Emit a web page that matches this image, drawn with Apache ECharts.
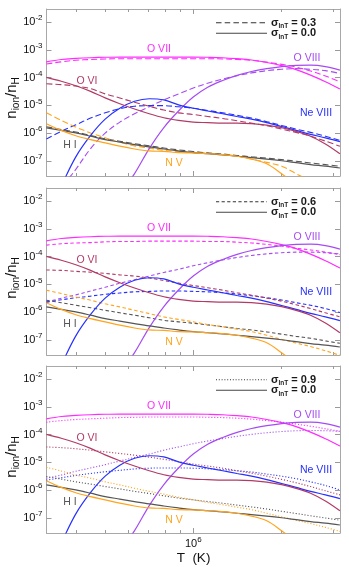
<!DOCTYPE html>
<html><head><meta charset="utf-8">
<script src="https://cdn.jsdelivr.net/npm/echarts@6/dist/echarts.min.js"></script>
<style>html,body{margin:0;padding:0;background:#fff}#c{width:349px;height:567px}</style>
</head><body><div id="c"></div>
<script>
// Temperature grid (K)
const T = [3.16e5,3.55e5,3.98e5,4.47e5,5.01e5,5.62e5,6.31e5,7.08e5,7.94e5,8.91e5,1.0e6,1.12e6,1.26e6,1.41e6,1.58e6,1.78e6,2.0e6,2.24e6,2.51e6,2.82e6,3.16e6];

// sigma_lnT = 0.0 (solid, all panels)
const OVII_s00  = [3.7e-4,4.5e-4,4.9e-4,5.2e-4,5.4e-4,5.5e-4,5.5e-4,5.5e-4,5.5e-4,5.5e-4,5.5e-4,5.4e-4,5.2e-4,4.8e-4,4.3e-4,3.5e-4,2.7e-4,1.95e-4,1.23e-4,7.1e-5,3.9e-5];
const OVIII_s00 = [1e-11,4e-11,1.6e-10,5e-10,1.6e-9,6.3e-9,3.5e-8,2.8e-7,1.6e-6,6.3e-6,2.0e-5,4.5e-5,7.9e-5,1.2e-4,1.66e-4,2.1e-4,2.5e-4,2.75e-4,2.8e-4,2.5e-4,1.86e-4];
const NeVIII_s00= [1e-9,1.26e-8,1.41e-7,8.3e-7,3.2e-6,7.9e-6,1.41e-5,1.74e-5,1.58e-5,1.05e-5,7.9e-6,6.3e-6,5.0e-6,4.0e-6,3.2e-6,2.4e-6,1.74e-6,1.26e-6,9.1e-7,6.8e-7,5.0e-7];
const OVI_s00   = [1.02e-4,7.4e-5,5.1e-5,3.2e-5,1.86e-5,1.15e-5,7.4e-6,5.0e-6,3.6e-6,2.9e-6,2.5e-6,2.4e-6,2.3e-6,2.3e-6,2.2e-6,1.95e-6,1.58e-6,1.17e-6,7.8e-7,4.1e-7,1.82e-7];
const HI_s00    = [1.55e-6,1.26e-6,1.02e-6,7.8e-7,5.9e-7,4.8e-7,3.9e-7,3.2e-7,2.7e-7,2.3e-7,2.0e-7,1.82e-7,1.66e-7,1.48e-7,1.32e-7,1.17e-7,1.02e-7,8.7e-8,7.4e-8,6.5e-8,5.6e-8];
const NV_s00    = [2.2e-6,1.26e-6,8.1e-7,5.9e-7,4.5e-7,3.4e-7,2.7e-7,2.3e-7,2.2e-7,2.0e-7,1.95e-7,1.82e-7,1.7e-7,1.48e-7,1.17e-7,7.9e-8,3.5e-8,1.41e-8,5e-9,1.6e-9,5e-10];

// sigma_lnT = 0.3 (dashed, top panel)
const OVII_s03  = [3.1e-4,3.7e-4,4.2e-4,4.5e-4,4.7e-4,4.8e-4,4.8e-4,4.8e-4,4.8e-4,4.8e-4,4.8e-4,4.8e-4,4.7e-4,4.5e-4,4.2e-4,3.6e-4,3.0e-4,2.4e-4,1.74e-4,1.15e-4,7.1e-5];
const OVIII_s03 = [1e-9,1e-8,5e-8,2.8e-7,1e-6,2.5e-6,5e-6,8.9e-6,1.58e-5,2.6e-5,4.2e-5,6.3e-5,8.9e-5,1.17e-4,1.48e-4,1.78e-4,2.0e-4,2.1e-4,2.0e-4,1.78e-4,1.41e-4];
const NeVIII_s03= [6.2e-7,1.17e-6,2.0e-6,3.5e-6,5.4e-6,7.6e-6,9.3e-6,9.8e-6,9.8e-6,8.9e-6,7.9e-6,6.6e-6,5.4e-6,4.4e-6,3.5e-6,2.6e-6,1.9e-6,1.41e-6,1.07e-6,7.8e-7,5.5e-7];
const OVI_s03   = [6.0e-5,5.6e-5,5.0e-5,4.0e-5,2.6e-5,1.86e-5,1.29e-5,9.3e-6,6.8e-6,5.4e-6,4.7e-6,4.0e-6,3.4e-6,2.8e-6,2.3e-6,1.86e-6,1.41e-6,1.07e-6,7.8e-7,5.2e-7,3.4e-7];
const HI_s03    = [1.7e-6,1.35e-6,1.1e-6,8.3e-7,6.3e-7,5.1e-7,4.2e-7,3.5e-7,2.95e-7,2.5e-7,2.2e-7,1.95e-7,1.78e-7,1.58e-7,1.41e-7,1.26e-7,1.12e-7,9.8e-8,8.5e-8,7.4e-8,6.5e-8];
const NV_s03    = [5.4e-6,2.9e-6,1.66e-6,1.02e-6,6.8e-7,4.7e-7,3.5e-7,2.9e-7,2.4e-7,2.2e-7,2.0e-7,1.86e-7,1.7e-7,1.48e-7,1.17e-7,8.9e-8,6.5e-8,3.5e-8,1.86e-8,7.9e-9,3.2e-9];

// sigma_lnT = 0.6 (short dashes, middle panel)
const OVII_s06  = [2.6e-4,2.9e-4,3.1e-4,3.2e-4,3.4e-4,3.5e-4,3.5e-4,3.6e-4,3.6e-4,3.6e-4,3.6e-4,3.5e-4,3.5e-4,3.3e-4,3.1e-4,2.75e-4,2.4e-4,2.0e-4,1.74e-4,1.45e-4,1.17e-4];
const OVIII_s06 = [2.3e-6,3.2e-6,4.2e-6,5.8e-6,7.9e-6,1.1e-5,1.48e-5,2.0e-5,2.7e-5,3.5e-5,4.7e-5,6.0e-5,7.6e-5,9.3e-5,1.1e-4,1.26e-4,1.38e-4,1.45e-4,1.45e-4,1.38e-4,1.26e-4];
const NeVIII_s06= [2.3e-6,2.8e-6,3.3e-6,3.8e-6,4.4e-6,4.9e-6,5.4e-6,5.6e-6,5.8e-6,5.8e-6,5.6e-6,5.4e-6,5.0e-6,4.5e-6,3.9e-6,3.3e-6,2.75e-6,2.2e-6,1.78e-6,1.35e-6,9.8e-7];
const OVI_s06   = [3.3e-5,3.2e-5,2.95e-5,2.75e-5,2.5e-5,2.2e-5,2.0e-5,1.7e-5,1.38e-5,1.12e-5,9.1e-6,7.6e-6,6.2e-6,5.0e-6,4.1e-6,3.2e-6,2.5e-6,1.86e-6,1.35e-6,9.5e-7,6.8e-7];
const HI_s06    = [2.7e-6,2.2e-6,1.78e-6,1.45e-6,1.17e-6,9.5e-7,7.8e-7,6.3e-7,5.1e-7,4.5e-7,4.0e-7,3.5e-7,3.0e-7,2.6e-7,2.3e-7,1.95e-7,1.62e-7,1.35e-7,1.15e-7,9.3e-8,7.6e-8];
const NV_s06    = [6.2e-6,4.7e-6,3.5e-6,2.7e-6,2.0e-6,1.55e-6,1.17e-6,8.9e-7,6.8e-7,5.5e-7,4.5e-7,3.6e-7,3.0e-7,2.45e-7,2.0e-7,1.48e-7,1.05e-7,7.8e-8,5.8e-8,4.1e-8,2.8e-8];

// sigma_lnT = 0.9 (dotted, bottom panel)
const OVII_s09  = [2.8e-4,3.2e-4,3.5e-4,3.7e-4,3.9e-4,4.1e-4,4.2e-4,4.3e-4,4.3e-4,4.3e-4,4.3e-4,4.2e-4,4.1e-4,3.9e-4,3.6e-4,3.2e-4,2.8e-4,2.4e-4,2.0e-4,1.62e-4,1.32e-4];
const OVIII_s09 = [2.7e-6,3.5e-6,4.8e-6,6.3e-6,8.3e-6,1.12e-5,1.51e-5,2.0e-5,2.75e-5,3.6e-5,4.7e-5,5.9e-5,7.2e-5,8.7e-5,1.02e-4,1.17e-4,1.29e-4,1.38e-4,1.41e-4,1.38e-4,1.32e-4];
const NeVIII_s09= [2.3e-6,2.8e-6,3.4e-6,4.0e-6,4.6e-6,5.2e-6,5.8e-6,6.2e-6,6.3e-6,6.3e-6,6.2e-6,5.9e-6,5.5e-6,5.0e-6,4.5e-6,3.8e-6,3.2e-6,2.6e-6,2.0e-6,1.48e-6,1.02e-6];
const OVI_s09   = [3.6e-5,3.4e-5,3.1e-5,2.75e-5,2.4e-5,2.1e-5,1.82e-5,1.55e-5,1.29e-5,1.07e-5,8.7e-6,7.4e-6,6.2e-6,5.0e-6,4.1e-6,3.2e-6,2.45e-6,1.86e-6,1.35e-6,9.5e-7,6.8e-7];
const HI_s09    = [3.1e-6,2.5e-6,2.0e-6,1.66e-6,1.35e-6,1.12e-6,9.1e-7,7.6e-7,6.3e-7,5.2e-7,4.5e-7,3.9e-7,3.4e-7,2.9e-7,2.5e-7,2.1e-7,1.74e-7,1.45e-7,1.2e-7,1.0e-7,8.3e-8];
const NV_s09    = [6.6e-6,4.9e-6,3.5e-6,2.7e-6,2.0e-6,1.55e-6,1.17e-6,9.1e-7,7.2e-7,5.6e-7,4.5e-7,3.6e-7,3.0e-7,2.45e-7,2.0e-7,1.48e-7,1.1e-7,8.3e-8,6.3e-8,4.6e-8,3.3e-8];

// Ticks and labels
const xMajorTicks = [1e6];
const xMinorTicks = [4e5,5e5,6e5,7e5,8e5,9e5,2e6,3e6];
const yTicks = [1e-7,1e-6,1e-5,1e-4,1e-3,1e-2];
const sigmaLabels = ['0.3','0.6','0.9'];
const ionNames = ['O VII','O VIII','Ne VIII','O VI','H I','N V'];

// ---------- building ----------
const FONT = '"Liberation Sans", Arial, Helvetica, sans-serif';
const ionKeys = ['OVII','OVIII','NeVIII','OVI','HI','NV'];
const colors = {OVII:'#ff2bff', OVIII:'#a64bf4', NeVIII:'#2630ff', OVI:'#b13a66', HI:'#555555', NV:'#ffa41c'};
const solid = {OVII:OVII_s00, OVIII:OVIII_s00, NeVIII:NeVIII_s00, OVI:OVI_s00, HI:HI_s00, NV:NV_s00};
const smeared = [
  {OVII:OVII_s03, OVIII:OVIII_s03, NeVIII:NeVIII_s03, OVI:OVI_s03, HI:HI_s03, NV:NV_s03},
  {OVII:OVII_s06, OVIII:OVIII_s06, NeVIII:NeVIII_s06, OVI:OVI_s06, HI:HI_s06, NV:NV_s06},
  {OVII:OVII_s09, OVIII:OVIII_s09, NeVIII:NeVIII_s09, OVI:OVI_s09, HI:HI_s09, NV:NV_s09}
];
const dashes = [[6,3],[3.5,2.5],[1.1,1.9]];
const legendDashes = [[5.5,3.2],[3.2,2.4],[1,1.8]];
const tops = [9, 188, 366];
const H = 167, LEFT = 46.5, W = 293.5;
const XMIN = 316228, XMAX = 3162278, YMIN = 2.88e-8, YMAX = 2.95e-2;
const AXC = '#a8a8a8', TKC = '#9a9a9a';

const supRich = {
  b:{fontSize:11, lineHeight:16, fontFamily:FONT, color:'#111'},
  s:{fontSize:8, lineHeight:8, fontFamily:FONT, color:'#111', verticalAlign:'top'}
};
function powLabel(v){ const e = Math.round(Math.log10(v)); return '{b|10}{s|' + e + '}'; }

const grid = [], xAxis = [], yAxis = [], series = [], graphic = [];
tops.forEach((top, i) => {
  grid.push({left:LEFT, width:W, top:top, height:H, outerBoundsMode:'none', containLabel:false});
  const xb = {gridIndex:i, type:'log', logBase:10, min:XMIN, max:XMAX, splitLine:{show:false}, minorTick:{show:false}};
  ['bottom','top'].forEach(pos => {
    xAxis.push(Object.assign({}, xb, {position:pos,
      axisLine:{show:true, onZero:false, lineStyle:{color:AXC, width:1}},
      axisTick:{show:true, inside:true, length:5, customValues:xMajorTicks, lineStyle:{color:TKC}},
      axisLabel:{show:(pos==='bottom' && i===2), customValues:xMajorTicks, margin:3, formatter:powLabel, rich:supRich}}));
    xAxis.push(Object.assign({}, xb, {position:pos,
      axisLine:{show:false},
      axisTick:{show:true, inside:true, length:3, customValues:xMinorTicks, lineStyle:{color:TKC}},
      axisLabel:{show:false}}));
  });
  ['left','right'].forEach(pos => {
    yAxis.push({gridIndex:i, type:'log', logBase:10, min:YMIN, max:YMAX, position:pos,
      splitLine:{show:false},
      axisLine:{show:true, onZero:false, lineStyle:{color:AXC, width:1}},
      axisTick:{show:true, inside:true, length:5, customValues:yTicks, lineStyle:{color:TKC}},
      axisLabel:{show:pos==='left', customValues:yTicks, margin:4, formatter:powLabel, rich:supRich}});
  });
  ionKeys.forEach(k => {
    series.push({type:'line', xAxisIndex:4*i, yAxisIndex:2*i, name:k+'_s'+sigmaLabels[i],
      data:T.map((t,j)=>[t, smeared[i][k][j]]), symbol:'none', smooth:0.35, clip:true, silent:true,
      lineStyle:{color:colors[k], width:1.1, type:dashes[i]}, z:2});
  });
  ionKeys.forEach(k => {
    series.push({type:'line', xAxisIndex:4*i, yAxisIndex:2*i, name:k+'_s0.0',
      data:T.map((t,j)=>[t, solid[k][j]]), symbol:'none', smooth:0.35, clip:true, silent:true,
      lineStyle:{color:colors[k], width:1.2, type:'solid'}, z:3});
  });

  const off = top - 9;
  const labelPos = [[159,49.5],[307,58.5],[316,113.5],[87,81],[70,145.5],[174,163.5]];
  ionKeys.forEach((k, j) => {
    graphic.push({type:'text', x:labelPos[j][0], y:labelPos[j][1]+off, z:10,
      style:{text:ionNames[j], fill:colors[k], font:'10.5px '+FONT, align:'center', verticalAlign:'middle'}});
  });
  // legend
  graphic.push({type:'line', z:10, shape:{x1:216, y1:22.7+off, x2:267, y2:22.7+off},
    style:{stroke:'#333', lineWidth:1.1, lineDash:legendDashes[i]}});
  graphic.push({type:'line', z:10, shape:{x1:216, y1:33.3+off, x2:267, y2:33.3+off},
    style:{stroke:'#444', lineWidth:1.1}});
  const legRich = {g:{fontSize:11, lineHeight:14, fontFamily:FONT, fill:'#1a1a1a', fontWeight:'bold'},
                   s:{fontSize:6.5, lineHeight:7, fontFamily:FONT, fill:'#1a1a1a', verticalAlign:'bottom', fontWeight:'bold'}};
  graphic.push({type:'text', z:10, x:271, y:22.7+off,
    style:{text:'{g|σ}{s|lnT}{g| = '+sigmaLabels[i]+'}', rich:legRich, align:'left', verticalAlign:'middle'}});
  graphic.push({type:'text', z:10, x:271, y:33.3+off,
    style:{text:'{g|σ}{s|lnT}{g| = 0.0}', rich:legRich, align:'left', verticalAlign:'middle'}});
  // y axis title
  graphic.push({type:'text', z:10, x:12, y:[98,278,457][i], rotation:Math.PI/2,
    style:{text:'{n|n}{s|ion}{n|/n}{s|H}', align:'center', verticalAlign:'middle',
      rich:{n:{fontSize:15, lineHeight:18, fontFamily:FONT, fill:'#111'},
            s:{fontSize:10, lineHeight:10, fontFamily:FONT, fill:'#111', verticalAlign:'bottom'}}}});
});
graphic.push({type:'text', z:10, x:193.5, y:558.5,
  style:{text:'T  (K)', font:'13.5px '+FONT, fill:'#111', align:'center', verticalAlign:'middle'}});

const chart = echarts.init(document.getElementById('c'), null, {renderer:'canvas'});
chart.setOption({animation:false, backgroundColor:'#fff', grid, xAxis, yAxis, series, graphic});
</script></body></html>
